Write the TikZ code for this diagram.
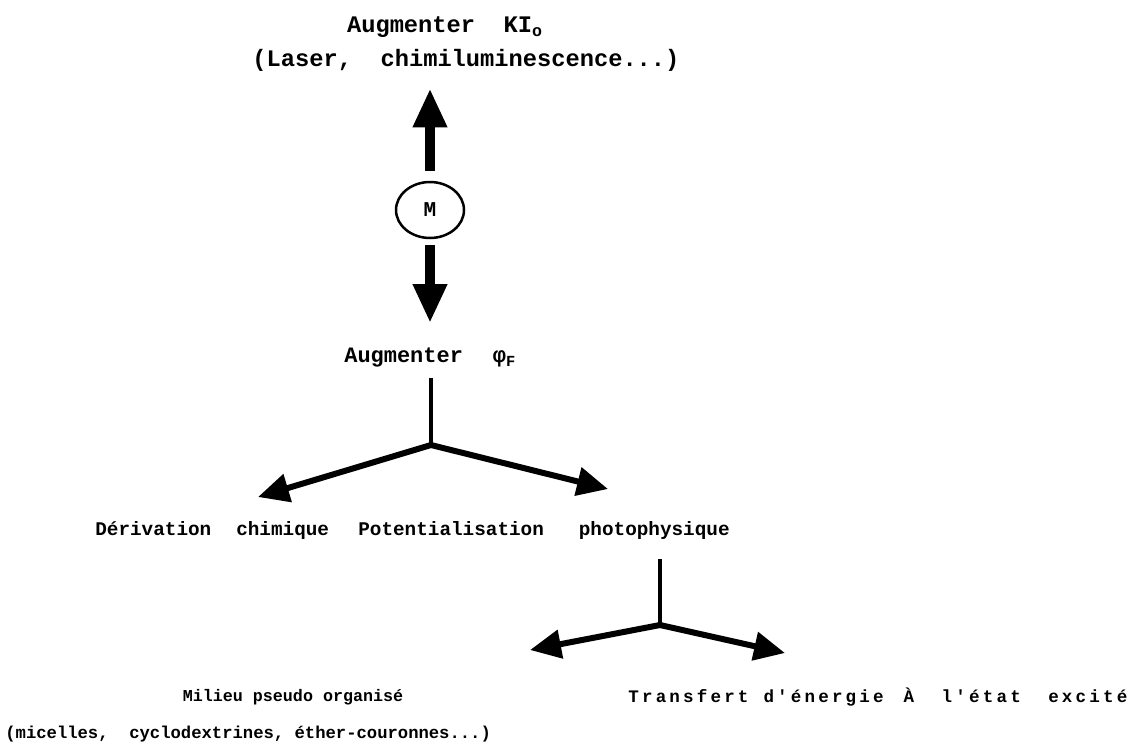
\documentclass[tikz,border=0pt]{standalone}
\usepackage{fontspec}
\setmonofont{Liberation Mono}
\usetikzlibrary{arrows.meta,shapes.geometric,positioning}

\begin{document}
\begin{tikzpicture}[x=0.02cm, y=-0.02cm,
  % Text styles
  grand/.style={font=\ttfamily\bfseries\fontsize{13.5}{16}\selectfont, inner sep=0pt},
  moyen/.style={font=\ttfamily\bfseries\fontsize{11}{13}\selectfont, inner sep=0pt},
  petit/.style={font=\ttfamily\bfseries\fontsize{9.5}{11}\selectfont, inner sep=0pt},
  % Shapes
  molecule/.style={ellipse, draw, line width=0.05cm, minimum width=1.36cm, minimum height=1.12cm, font=\ttfamily\bfseries\fontsize{12}{14}\selectfont},
  % Connector styles
  grosse/.style={-{Triangle[length=0.78cm, width=0.64cm]}, line width=0.2cm},
  branche/.style={-{Triangle[length=0.62cm, width=0.56cm]}, line width=0.12cm, line cap=round},
  trait/.style={line width=0.07cm},
]

% === TOP: intensity ===
\node[grand] (titre) at (445,27) {Augmenter~~KI\textsubscript{o}};
\node[grand] (laser) at (466,60) {(Laser,~~chimiluminescence...)};

% === CENTER: M ===
\node[molecule] (M) at (430,210) {M};

% === quantum yield ===
\node[grand, anchor=west, font=\ttfamily\bfseries\fontsize{12.5}{14}\selectfont] (phiF) at (344,358)
  {Augmenter\hspace{0.6cm}φ\textsubscript{F}};

\draw[grosse, shorten <=0.2cm, shorten >=0.34cm] (M.north) -- (M.north |- laser.south);
\draw[grosse, shorten <=0.12cm, shorten >=0.5cm] (M.south) -- (M.south |- phiF.north);

% === first branching ===
\coordinate (j1) at (431,445);
\coordinate (tipA) at (258,497);
\coordinate (tipB) at (608,489);
\draw[trait, shorten <=0.2cm] (phiF.south -| j1) -- (j1);
\draw[branche] (j1) -- (tipA);
\draw[branche] (j1) -- (tipB);

\node[moyen, anchor=west] (deriv)  at (95,530)  {Dérivation\hspace{0.5cm}chimique};
\node[moyen, anchor=west] (potent) at (358,530) {Potentialisation\hspace{0.7cm}photophysique};

% === second branching ===
\coordinate (j2) at (660,625);
\coordinate (tipC) at (530,650);
\coordinate (tipD) at (785,653);
\draw[trait, shorten <=0.4cm] (potent.south -| j2) -- (j2);
\draw[branche] (j2) -- (tipC);
\draw[branche] (j2) -- (tipD);

\node[petit] (milieu) at (293,697) {Milieu pseudo organisé};
\node[petit, anchor=west, font=\ttfamily\bfseries\fontsize{9.8}{11}\selectfont] (micelles) at (5,734)
  {(micelles,~~cyclodextrines, éther-couronnes...)};
\node[petit, anchor=west, font=\ttfamily\bfseries\fontsize{10}{12}\selectfont\addfontfeature{LetterSpace=18}] (transfert) at (628,697)
  {Transfert\hspace{0.3cm}d'énergie\hspace{0.4cm}À\hspace{0.55cm}l'état\hspace{0.55cm}excité};

\useasboundingbox (0,0) rectangle (1145,739);
\end{tikzpicture}
\end{document}
